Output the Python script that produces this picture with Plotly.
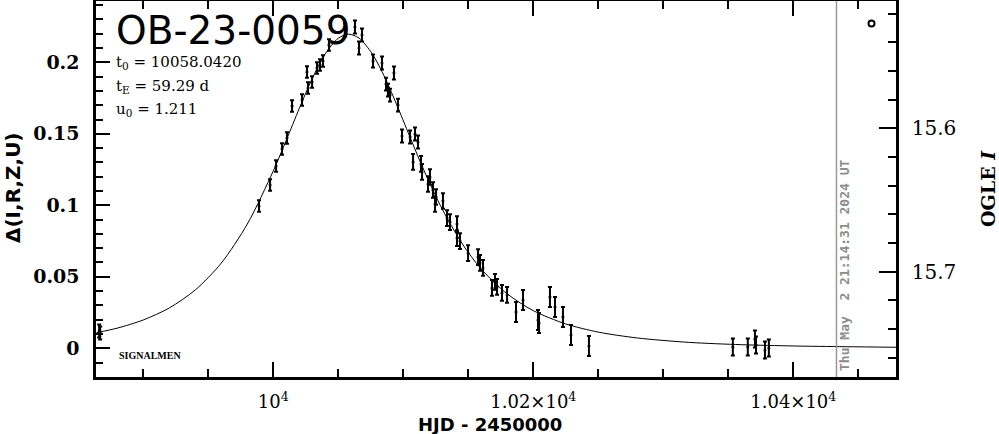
import plotly.graph_objects as go

# ---- data ----
hjd = [9866.0, 9866.8, 9989.0, 9997.5, 10002.1, 10006.7, 10010.5, 10014.4, 10022.1, 10026.7,
       10029.8, 10025.9, 10033.6, 10035.9, 10038.2, 10042.8, 10055.2, 10062.8, 10068.2, 10065.9,
       10076.7, 10083.6, 10092.8, 10086.7, 10088.2, 10089.8, 10095.9, 10099.0, 10105.2, 10109.0,
       10111.3, 10107.5, 10113.6, 10114.4, 10120.5, 10119.0, 10122.8, 10125.2, 10124.4, 10130.5,
       10133.6, 10135.9, 10141.3, 10141.3, 10143.6, 10149.8, 10157.5, 10159.0, 10161.3, 10168.2,
       10170.5, 10172.1, 10175.9, 10179.8, 10186.7, 10192.1, 10203.6, 10204.4, 10212.8, 10216.7,
       10222.8, 10229.0, 10242.8, 10353.5, 10365.0, 10370.5, 10371.3, 10378.2, 10381.2]
delta = [0.0121, 0.0107, 0.0995, 0.1142, 0.1275, 0.1394, 0.1471, 0.1694, 0.1736, 0.1820,
         0.1862, 0.1932, 0.1960, 0.1981, 0.2009, 0.2121, 0.2226, 0.2247, 0.2191, 0.2100,
         0.2009, 0.1995, 0.1925, 0.1848, 0.1806, 0.1771, 0.1701, 0.1485, 0.1478, 0.1499,
         0.1443, 0.1303, 0.1289, 0.1233, 0.1198, 0.1149, 0.1107, 0.1058, 0.1009, 0.1030,
         0.0911, 0.0883, 0.0869, 0.0771, 0.0750, 0.0666, 0.0638, 0.0597, 0.0562, 0.0422,
         0.0464, 0.0429, 0.0387, 0.0373, 0.0254, 0.0338, 0.0198, 0.0177, 0.0359, 0.0289,
         0.0219, 0.0093, 0.0016, 0.0009, 0.0009, 0.0065, 0.0023, -0.0012, 0.0002]
delta_err = [0.0045, 0.0045,
             0.004, 0.004, 0.004, 0.004, 0.004, 0.004, 0.004, 0.004, 0.004, 0.004, 0.004, 0.004, 0.004, 0.004,
             0.0045, 0.0045, 0.0045, 0.0045, 0.0045, 0.0045, 0.0045, 0.0045, 0.0045, 0.0045, 0.0045, 0.0045,
             0.0045, 0.0045, 0.0045,
             0.0055, 0.0055, 0.0055, 0.0055, 0.0055, 0.0055, 0.0055, 0.0055, 0.0055, 0.0055, 0.0055, 0.0055,
             0.0055, 0.0055, 0.0055, 0.0055, 0.0055, 0.0055, 0.0055, 0.0055, 0.0055, 0.0055, 0.0055,
             0.007, 0.007, 0.007, 0.007, 0.007, 0.007, 0.007, 0.007, 0.007,
             0.006, 0.006, 0.006, 0.006, 0.006, 0.006]

model_hjd = [9864, 9880, 9900, 9920, 9940, 9960, 9980, 10000, 10010, 10020, 10030, 10040, 10050,
             10058, 10066, 10076, 10086, 10096, 10106, 10116, 10130, 10145, 10160, 10180, 10200,
             10225, 10250, 10280, 10320, 10360, 10400, 10440, 10479]
model_delta = [0.0109, 0.0141, 0.0198, 0.0282, 0.0408, 0.0596, 0.0869, 0.1241, 0.1456, 0.1678,
               0.1888, 0.2060, 0.2169, 0.2197, 0.2169, 0.2061, 0.1890, 0.1680, 0.1458, 0.1242,
               0.0972, 0.0736, 0.0553, 0.0380, 0.0263, 0.0170, 0.0113, 0.0072, 0.0041, 0.0025,
               0.0016, 0.0011, 0.0007]

x_tickvals = [10000, 10200, 10400]
x_ticktext = ["10<sup>4</sup>", "1.02×10<sup>4</sup>", "1.04×10<sup>4</sup>"]
y_tickvals = [0, 0.05, 0.1, 0.15, 0.2]
y_ticktext = ["0", "0.05", "0.1", "0.15", "0.2"]
mag_tickvals = [15.6, 15.7]
mag_ticktext = ["15.6", "15.7"]

event_name = "OB-23-0059"
param_lines = ["t<sub>0</sub> = 10058.0420", "t<sub>E</sub> = 59.29 d", "u<sub>0</sub> = 1.211"]
timestamp = "Thu May\u00a0 2 21:14:31 2024 UT"
now_hjd = 10433.2

# ---- geometry helpers (pixel -> paper) ----
W, H = 999, 434
L, R, T, B = 96, 103, 1, 57
PW, PH = W - L - R, H - T - B


def px(x):
    return (x - L) / PW


def py(y):
    return (H - B - y) / PH


fig = go.Figure()
fig.add_trace(go.Scatter(x=model_hjd, y=model_delta, mode="lines",
                         line=dict(color="black", width=1, shape="spline", smoothing=0.8),
                         hoverinfo="skip", showlegend=False))
fig.add_trace(go.Scatter(x=hjd, y=delta, mode="markers",
                         marker=dict(color="black", size=3),
                         error_y=dict(type="data", array=delta_err, color="black",
                                      thickness=2, width=2),
                         showlegend=False))
fig.add_trace(go.Scatter(x=[None], y=[None], yaxis="y2", showlegend=False))

axis_common = dict(showgrid=False, zeroline=False, showline=True, linecolor="black",
                   linewidth=2.5, ticks="inside", tickcolor="black", tickwidth=2)

fig.update_layout(
    width=W, height=H,
    margin=dict(l=L, r=R, t=T, b=B, autoexpand=False),
    paper_bgcolor="white", plot_bgcolor="white",
    font=dict(family="DejaVu Serif", color="black"),
    showlegend=False,
    xaxis=dict(range=[9863.6, 10479], tickvals=x_tickvals, ticktext=x_ticktext,
               ticklen=15, mirror="ticks",
               minor=dict(dtick=50, tick0=10000, ticklen=8, ticks="inside",
                          tickcolor="black", tickwidth=2),
               tickfont=dict(family="DejaVu Serif", size=18, color="black"),
               ticklabelstandoff=7, **axis_common),
    yaxis=dict(range=[-0.0201, 0.2429], tickvals=y_tickvals, ticktext=y_ticktext,
               ticklen=14,
               minor=dict(dtick=0.01, tick0=0, ticklen=7, ticks="inside",
                          tickcolor="black", tickwidth=2),
               tickfont=dict(family="DejaVu Serif", size=19, color="black", weight="bold"),
               ticklabelstandoff=10, **axis_common),
    yaxis2=dict(overlaying="y", side="right", range=[15.7734, 15.5112],
                tickvals=mag_tickvals, ticktext=mag_ticktext, ticklen=17,
                minor=dict(dtick=0.02, tick0=15.6, ticklen=8, ticks="inside",
                           tickcolor="black", tickwidth=2),
                tickfont=dict(family="DejaVu Serif", size=20, color="black"),
                ticklabelstandoff=9, **axis_common),
)

# current-date line
fig.add_shape(type="line", xref="x", yref="paper", x0=now_hjd, x1=now_hjd, y0=0, y1=1,
              line=dict(color="#999999", width=1.5))
# symbol at top right
fig.add_shape(type="circle", xref="paper", yref="paper",
              x0=px(868.5), x1=px(874.5), y0=py(26.5), y1=py(20.5),
              line=dict(color="black", width=2))

ann = []
ann.append(dict(text=event_name, x=px(114), y=py(30), xanchor="left", yanchor="middle",
                font=dict(family="DejaVu Sans", size=39, color="black")))
for txt, yy in zip(param_lines, [63, 86, 109]):
    ann.append(dict(text=txt, x=px(114), y=py(yy), xanchor="left", yanchor="middle",
                    font=dict(family="DejaVu Serif", size=15, color="black")))
ann.append(dict(text="SIGNALMEN", x=px(117), y=py(355.5), xanchor="left", yanchor="middle",
                font=dict(family="Liberation Serif", size=10, color="black", weight="bold")))
ann.append(dict(text=timestamp, x=px(844), y=py(266), xanchor="center", yanchor="middle",
                textangle=-90,
                font=dict(family="DejaVu Sans Mono", size=13, color="#8c8c8c", weight="bold")))
ann.append(dict(text="HJD - 2450000", x=px(490), y=py(424), xanchor="center", yanchor="middle",
                font=dict(family="DejaVu Sans", size=18, color="black", weight="bold")))
ann.append(dict(text="Δ(I,R,Z,U)", x=px(13), y=py(188), xanchor="center", yanchor="middle",
                textangle=-90,
                font=dict(family="DejaVu Sans", size=20, color="black", weight="bold")))
ann.append(dict(text="OGLE <i>I</i>", x=px(988), y=py(189), xanchor="center", yanchor="middle",
                textangle=-90,
                font=dict(family="DejaVu Serif", size=19, color="black", weight="bold")))
for a in ann:
    a.update(xref="paper", yref="paper", showarrow=False)
fig.update_layout(annotations=ann)

fig.write_html("out.html", config={"displayModeBar": False},
               post_script="document.body.style.margin='0px';document.body.style.overflow='hidden';")
